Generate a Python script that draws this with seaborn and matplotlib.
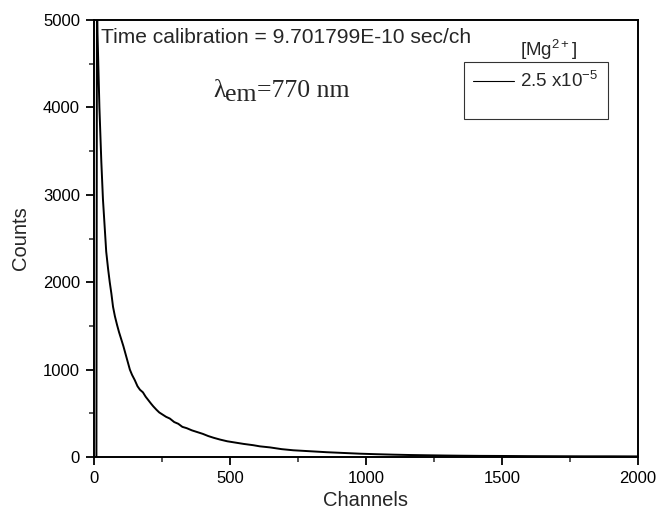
import matplotlib
matplotlib.use("Agg")
import matplotlib.pyplot as plt
from matplotlib.lines import Line2D
from matplotlib.ticker import MultipleLocator
import seaborn as sns
import pandas as pd

# ---- data ----
channels = [0, 9, 11, 13, 20, 27, 33, 40, 45, 52, 58, 64, 70, 77, 85, 92, 100,
            108, 116, 124, 132, 140, 150, 160, 169, 180, 190, 200, 210, 218, 230,
            240, 250, 265, 279, 295, 310, 325, 341, 360, 380, 400, 420, 440, 463,
            490, 520, 550, 586, 610, 647, 690, 733, 800, 855, 920, 978, 1040, 1100,
            1160, 1223, 1290, 1345, 1420, 1500, 1600, 1700, 1800, 1900, 2000]
counts = [0, 0, 5400, 4850, 4000, 3380, 2950, 2600, 2350, 2150, 2000, 1870, 1720,
          1610, 1510, 1430, 1350, 1270, 1180, 1090, 1000, 940, 880, 810, 770, 740,
          690, 650, 610, 580, 540, 510, 490, 460, 440, 400, 380, 345, 330, 305,
          285, 265, 240, 220, 200, 180, 165, 150, 135, 122, 110, 90, 77, 65, 55,
          46, 38, 32, 27, 23, 20, 17, 15, 13, 12, 10, 9, 8, 8, 7]
series_label = "2.5 x10$^{-5}$"
legend_title = "[Mg$^{2+}$]"
x_ticks = [0, 500, 1000, 1500, 2000]
y_ticks = [0, 1000, 2000, 3000, 4000, 5000]

df = pd.DataFrame({"Channels": channels, "Counts": counts})

sns.set_style("ticks")
plt.rcParams["font.family"] = ["Liberation Sans", "DejaVu Sans"]
plt.rcParams["mathtext.fontset"] = "custom"
plt.rcParams["mathtext.rm"] = "Liberation Sans"
plt.rcParams["mathtext.it"] = "Liberation Sans:italic"

fig = plt.figure(figsize=(6.59, 5.15), dpi=100)
ax = fig.add_axes([0.1426, 0.1126, 0.8254, 0.8485])

sns.lineplot(data=df, x="Channels", y="Counts", ax=ax, color="black",
             lw=1.4, estimator=None, sort=False, legend=False)

ax.set_xlim(0, 2000)
ax.set_ylim(0, 5000)
ax.set_xticks(x_ticks)
ax.set_yticks(y_ticks)
ax.xaxis.set_minor_locator(MultipleLocator(250))
ax.yaxis.set_minor_locator(MultipleLocator(500))
ax.tick_params(which="major", direction="out", length=6, width=1.3,
               labelsize=12, colors="black", pad=4)
ax.tick_params(which="minor", direction="out", length=3.5, width=1.1)
for s in ax.spines.values():
    s.set_visible(True)
    s.set_linewidth(1.4)
    s.set_color("black")

ax.set_xlabel("Channels", fontsize=14.5, labelpad=4)
ax.set_ylabel("Counts", fontsize=14.5, labelpad=9)

ax.text(0.013, 0.982, "Time calibration = 9.701799E-10 sec/ch",
        transform=ax.transAxes, ha="left", va="top", fontsize=15.1)

# lambda_em annotation (serif)
t1 = ax.text(0.219, 0.824, "λ", transform=ax.transAxes, ha="left",
             va="baseline", fontsize=18.5, family="Liberation Serif")
t2 = ax.annotate("em", xy=(1, 0), xycoords=t1, xytext=(0, -3),
                 textcoords="offset points", ha="left", va="bottom",
                 fontsize=18.5, family="Liberation Serif")
t3 = ax.annotate("=770 nm", xy=(1, 0), xycoords=t2, xytext=(0, 3),
                 textcoords="offset points", ha="left", va="bottom",
                 fontsize=18.5, family="Liberation Serif")

# legend with title outside the frame
ax.text(0.835, 0.905, legend_title, transform=ax.transAxes, ha="center",
        va="bottom", fontsize=13.5)
h = Line2D([], [], color="black", lw=0.8)
blank = Line2D([], [], color="none")
leg = ax.legend([h, blank], [series_label, " "], loc="upper left",
                bbox_to_anchor=(0.680, 0.904), frameon=True, fancybox=False,
                fontsize=13.5, handlelength=2.2, handletextpad=0.3,
                borderpad=0.5, labelspacing=0.05, borderaxespad=0)
leg.get_frame().set_edgecolor("black")
leg.get_frame().set_linewidth(0.8)

fig.savefig("out.png", dpi=100)
